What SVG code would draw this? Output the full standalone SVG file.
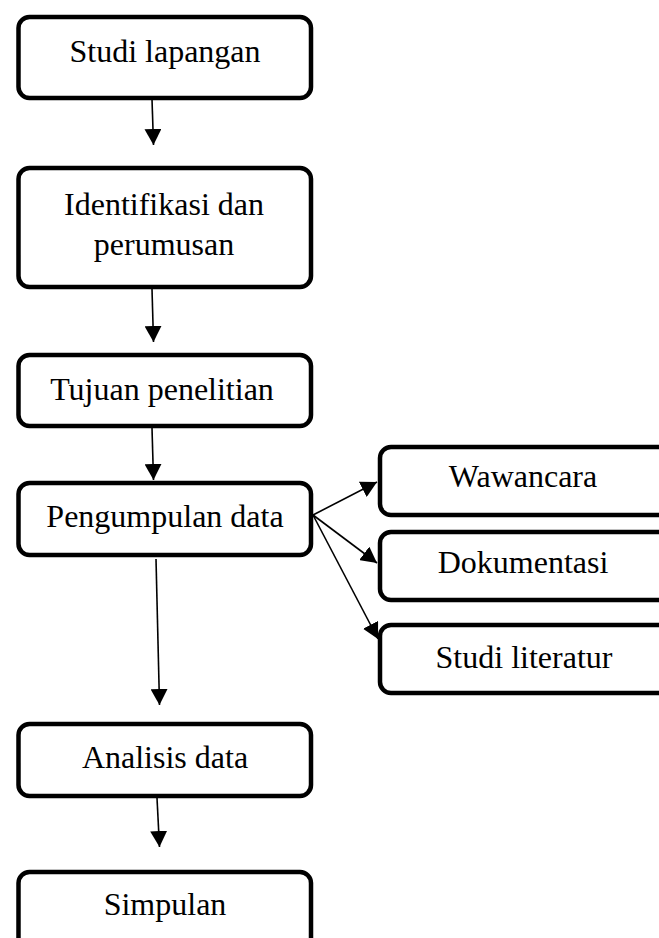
<svg xmlns="http://www.w3.org/2000/svg" width="659" height="938" viewBox="0 0 659 938">
<defs>
<style>
.box{fill:#fff;stroke:#000;stroke-width:4.5}
.t{font-family:"Liberation Serif","Times New Roman",serif;font-size:32px;fill:#000;text-anchor:middle}
.c{stroke:#000;stroke-width:1.6;fill:none;marker-end:url(#ah)}
</style>
<marker id="ah" markerUnits="userSpaceOnUse" viewBox="0 0 16 17" markerWidth="16" markerHeight="17" refX="16" refY="8.5" orient="auto">
<path d="M0,0 L16,8.5 L0,17 z" fill="#000"/>
</marker>
</defs>
<rect width="659" height="938" fill="#fff"/>
<g id="connectors">
<line class="c" x1="152" y1="99" x2="153.5" y2="145"/>
<line class="c" x1="152" y1="289" x2="153.5" y2="342"/>
<line class="c" x1="152" y1="428" x2="153.5" y2="480"/>
<line class="c" x1="156" y1="559" x2="159.5" y2="705"/>
<line class="c" x1="157" y1="798" x2="159.5" y2="847"/>
<line class="c" x1="313" y1="515" x2="377" y2="482"/>
<line class="c" x1="313" y1="515" x2="377" y2="563"/>
<line class="c" x1="313" y1="515" x2="378" y2="639"/>
</g>
<g id="studi-lapangan">
<rect class="box" x="18.5" y="17" width="292.5" height="81" rx="11"/>
<text class="t" x="165" y="62">Studi lapangan</text>
</g>
<g id="identifikasi">
<rect class="box" x="18.5" y="168" width="292.5" height="119" rx="11"/>
<text class="t" x="164" y="215">Identifikasi dan</text>
<text class="t" x="164" y="255">perumusan</text>
</g>
<g id="tujuan">
<rect class="box" x="18.5" y="355" width="292.5" height="71" rx="11"/>
<text class="t" x="162" y="400">Tujuan penelitian</text>
</g>
<g id="pengumpulan">
<rect class="box" x="18.5" y="483" width="292.5" height="72" rx="11"/>
<text class="t" x="165" y="527">Pengumpulan data</text>
</g>
<g id="analisis">
<rect class="box" x="18.5" y="724" width="292.5" height="72" rx="11"/>
<text class="t" x="165" y="768">Analisis data</text>
</g>
<g id="simpulan">
<rect class="box" x="18.5" y="872" width="292.5" height="90" rx="11"/>
<text class="t" x="165" y="915">Simpulan</text>
</g>
<g id="wawancara">
<rect class="box" x="380" y="447" width="300" height="68" rx="11"/>
<text class="t" x="523" y="487">Wawancara</text>
</g>
<g id="dokumentasi">
<rect class="box" x="380" y="532" width="300" height="68" rx="11"/>
<text class="t" x="523" y="573">Dokumentasi</text>
</g>
<g id="studi-literatur">
<rect class="box" x="380" y="625" width="300" height="68" rx="11"/>
<text class="t" x="524" y="668">Studi literatur</text>
</g>
</svg>
